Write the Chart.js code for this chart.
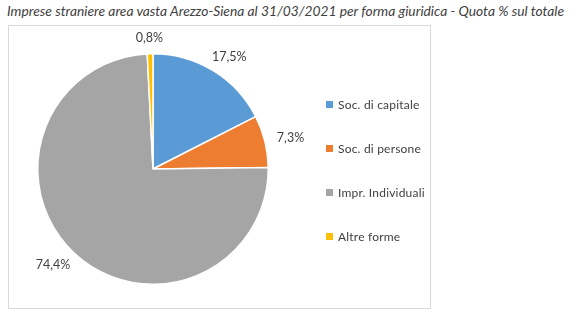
<!DOCTYPE html>
<html>
<head>
<meta charset="utf-8">
<script src="https://cdn.jsdelivr.net/npm/chart.js@4/dist/chart.umd.min.js"></script>
<style>
  body { margin: 0; width: 581px; height: 324px; background: #fff; overflow: hidden; font-family: Lato, "Open Sans", sans-serif; }
  #title { position: absolute; left: 7px; top: 2px; font-size: 13.8px; font-style: italic; color: #404040; white-space: nowrap; }
  #box { position: absolute; left: 8px; top: 25px; width: 423px; height: 284px; border: 1px solid #d9d9d9; box-sizing: border-box; }
  #box canvas { position: absolute; left: 0; top: 0; }
  #legend { position: absolute; left: 317px; top: 56px; list-style: none; margin: 0; padding: 0; }
  #legend li { height: 44px; font-size: 12px; color: #404040; display: flex; align-items: center; letter-spacing: 0.2px; }
  #legend span { display: inline-block; width: 7px; height: 7px; margin-right: 5px; }
</style>
</head>
<body>
<div id="title">Imprese straniere area vasta Arezzo-Siena al 31/03/2021 per forma giuridica - Quota % sul totale</div>
<div id="box">
  <canvas id="pieChart" width="421" height="282"></canvas>
  <ul id="legend"></ul>
</div>
<script>
// Forme giuridiche e quote percentuali
const forme = ["Soc. di capitale", "Soc. di persone", "Impr. Individuali", "Altre forme"]
const quote = [17.5, 7.3, 74.4, 0.8]
const colori = ["#5b9bd5", "#ed7d31", "#a5a5a5", "#ffc000"]

// Etichette percentuali fuori dalle fette: il riquadro del testo tocca
// un cerchio poco più largo della torta
const etichettePlugin = {
  id: "etichette",
  afterDatasetsDraw(chart) {
    const ctx = chart.ctx
    const meta = chart.getDatasetMeta(0)
    ctx.save()
    ctx.font = "12.5px Lato, 'Open Sans', sans-serif"
    ctx.fillStyle = "#404040"
    ctx.textAlign = "center"
    ctx.textBaseline = "middle"
    meta.data.forEach((arc, i) => {
      const p = arc.getProps(["x", "y", "startAngle", "endAngle", "outerRadius"], true)
      const mid = (p.startAngle + p.endAngle) / 2
      const dx = Math.cos(mid)
      const dy = Math.sin(mid)
      const testo = quote[i].toFixed(1).replace(".", ",") + "%"
      const w = ctx.measureText(testo).width
      const r = p.outerRadius + 10
      ctx.fillText(testo, p.x + dx * r + dx * w * 0.6, p.y + dy * r + dy * 6)
    })
    ctx.restore()
  },
}

new Chart(document.getElementById("pieChart"), {
  type: "pie",
  data: {
    labels: forme,
    datasets: [
      {
        data: quote,
        backgroundColor: colori,
        borderColor: "#ffffff",
        borderWidth: 1.5,
      },
    ],
  },
  options: {
    responsive: false,
    animation: false,
    layout: { padding: { left: 28, top: 27, right: 161, bottom: 23 } },
    plugins: {
      legend: { display: false },
      tooltip: { enabled: false },
    },
  },
  plugins: [etichettePlugin],
})

// Legenda
const legenda = document.getElementById("legend")
forme.forEach((nome, i) => {
  const li = document.createElement("li")
  li.innerHTML = '<span style="background:' + colori[i] + '"></span>' + nome
  legenda.appendChild(li)
})
</script>
</body>
</html>
